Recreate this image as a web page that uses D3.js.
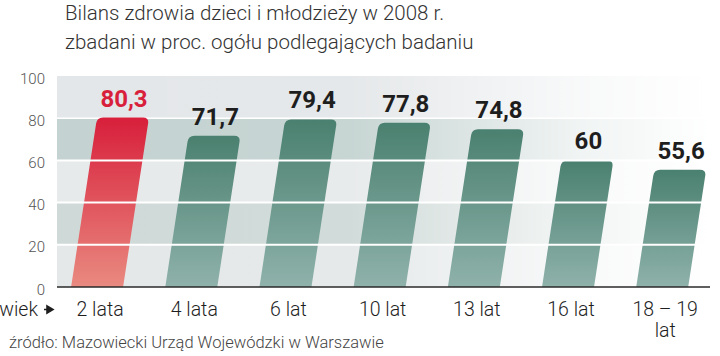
<!DOCTYPE html>
<html><head><meta charset="utf-8">
<script src="https://cdn.jsdelivr.net/npm/d3@7"></script>
<style>
body{margin:0;background:#fff;}
svg{display:block;font-family:Roboto,"Noto Sans",sans-serif;}
</style></head>
<body><svg id="c" width="720" height="356"></svg>
<script>
const categories = ["2 lata","4 lata","6 lat","10 lat","13 lat","16 lat","18 – 19 lat"];
const values = [80.3,71.7,79.4,77.8,74.8,60,55.6];
const valueLabels = ["80,3","71,7","79,4","77,8","74,8","60","55,6"];
const yTicks = [0,20,40,60,80,100];
const title1 = "Bilans zdrowia dzieci i młodzieży w 2008 r.";
const title2 = "zbadani w proc. ogółu podlegających badaniu";
const source = "źródło: Mazowiecki Urząd Wojewódzki w Warszawie";
const axisName = "wiek";

const svg = d3.select("#c");
const x = d3.scaleBand().domain(categories).range([50,709.3]).paddingInner(0.448).paddingOuter(0.224);
const y = d3.scaleLinear().domain([0,100]).range([287,76]);
const plotL = 57, plotR = 710;
const k = 0.153;

const defs = svg.append("defs");
const fade = defs.append("linearGradient").attr("id","fade").attr("x1",0).attr("x2",1).attr("y1",0).attr("y2",0);
fade.append("stop").attr("offset",0).attr("stop-color","#fff").attr("stop-opacity",0);
fade.append("stop").attr("offset",0.45).attr("stop-color","#fff").attr("stop-opacity",0.05);
fade.append("stop").attr("offset",0.8).attr("stop-color","#fff").attr("stop-opacity",0.75);
fade.append("stop").attr("offset",1).attr("stop-color","#fff").attr("stop-opacity",1);
function vgrad(id, top, bottom){
  const g = defs.append("linearGradient").attr("id",id).attr("x1",0).attr("x2",0).attr("y1",0).attr("y2",1);
  g.append("stop").attr("offset",0).attr("stop-color",top);
  g.append("stop").attr("offset",1).attr("stop-color",bottom);
}
vgrad("gRed","#d81f3b","#e98a80");
vgrad("gGreen","#4a806f","#8fb2ab");

// bands
const bandCols = ["#e4e8e9","#cfdad8","#e7eaeb","#c4d3d1","#e4e7e9"];
const bands = d3.range(5).map(i=>[yTicks[i],yTicks[i+1]]);
svg.append("g").selectAll("rect").data(bands).join("rect")
  .attr("x",plotL).attr("width",plotR-plotL)
  .attr("y",d=>y(d[1])).attr("height",d=>y(d[0])-y(d[1]))
  .attr("fill",(d,i)=>bandCols[i]);
svg.append("rect").attr("x",plotL).attr("width",plotR-plotL).attr("y",y(100)).attr("height",y(0)-y(100)).attr("fill","url(#fade)");
// 80 line beneath bars
svg.append("line").attr("x1",plotL).attr("x2",plotR).attr("y1",y(80)).attr("y2",y(80)).attr("stroke","#fff").attr("stroke-width",1.5);

// bars
function barPath(c,v){
  const x0 = x(c), w = x.bandwidth(), yb = y(0), yt = y(v), h = yb-yt, s = k*h, r = 6;
  const tl = x0+s, tr = x0+w+s;
  const rs = r*k;
  return `M${x0},${yb} L${tl-rs},${yt+r} Q${tl},${yt} ${tl+r},${yt} L${tr-r},${yt} Q${tr},${yt} ${tr-rs},${yt+r} L${x0+w},${yb} Z`;
}
svg.append("g").selectAll("path").data(categories).join("path")
  .attr("d",(c,i)=>barPath(c,values[i]))
  .attr("fill",(c,i)=>i===0?"url(#gRed)":"url(#gGreen)");

// grid lines over bars
svg.append("g").selectAll("line").data([20,40,60]).join("line")
  .attr("x1",plotL).attr("x2",plotR).attr("y1",d=>y(d)).attr("y2",d=>y(d))
  .attr("stroke","#fff").attr("stroke-width",2);

// baseline
svg.append("line").attr("x1",plotL).attr("x2",plotR).attr("y1",y(0)).attr("y2",y(0)).attr("stroke","#2a2a2a").attr("stroke-width",1.6);

// y tick labels
svg.append("g").selectAll("text").data(yTicks).join("text")
  .attr("x",45).attr("y",d=>y(d)+7.5).attr("text-anchor","end")
  .attr("font-size",15).attr("font-weight",300).attr("fill","#555").text(d=>d);

// value labels
svg.append("g").selectAll("text").data(categories).join("text")
  .attr("x",(c,i)=>x(c)+x.bandwidth()/2+k*(y(0)-y(values[i]))+1)
  .attr("y",(c,i)=>y(values[i])-11)
  .attr("text-anchor","middle").attr("font-size",24).attr("font-weight",700)
  .attr("fill",(c,i)=>i===0?"#d81f3b":"#1e1e1e").text((c,i)=>valueLabels[i]);

// category labels
const cat = svg.append("g").selectAll("text").data(categories).join("text")
  .attr("x",c=>x(c)+x.bandwidth()/2+3).attr("y",316)
  .attr("text-anchor","middle").attr("font-size",19.5).attr("font-weight",300).attr("fill","#1e1e1e");
cat.each(function(c){
  const t = d3.select(this);
  if(c.startsWith("18")){
    t.append("tspan").attr("x",t.attr("x")).text("18 – 19");
    t.append("tspan").attr("x",t.attr("x")).attr("dy",21).text("lat");
  } else t.text(c);
});

// axis name + arrow
svg.append("text").attr("x",38).attr("y",316).attr("text-anchor","end")
  .attr("font-size",19.5).attr("font-weight",300).attr("fill","#1e1e1e").text(axisName);
svg.append("path").attr("d","M44,309.5 L49,309.5 M47,306 L53,309.5 L47,313 Z")
  .attr("stroke","#1e1e1e").attr("stroke-width",1.6).attr("fill","#1e1e1e");

// titles
svg.append("text").attr("x",65).attr("y",20).attr("font-size",20.5).attr("font-weight",300).attr("fill","#333").text(title1);
svg.append("text").attr("x",65).attr("y",49).attr("font-size",20.5).attr("font-weight",300).attr("fill","#333").text(title2);
svg.append("text").attr("x",9).attr("y",348).attr("font-size",16.5).attr("font-weight",300).attr("fill","#444").text(source);
</script></body></html>
